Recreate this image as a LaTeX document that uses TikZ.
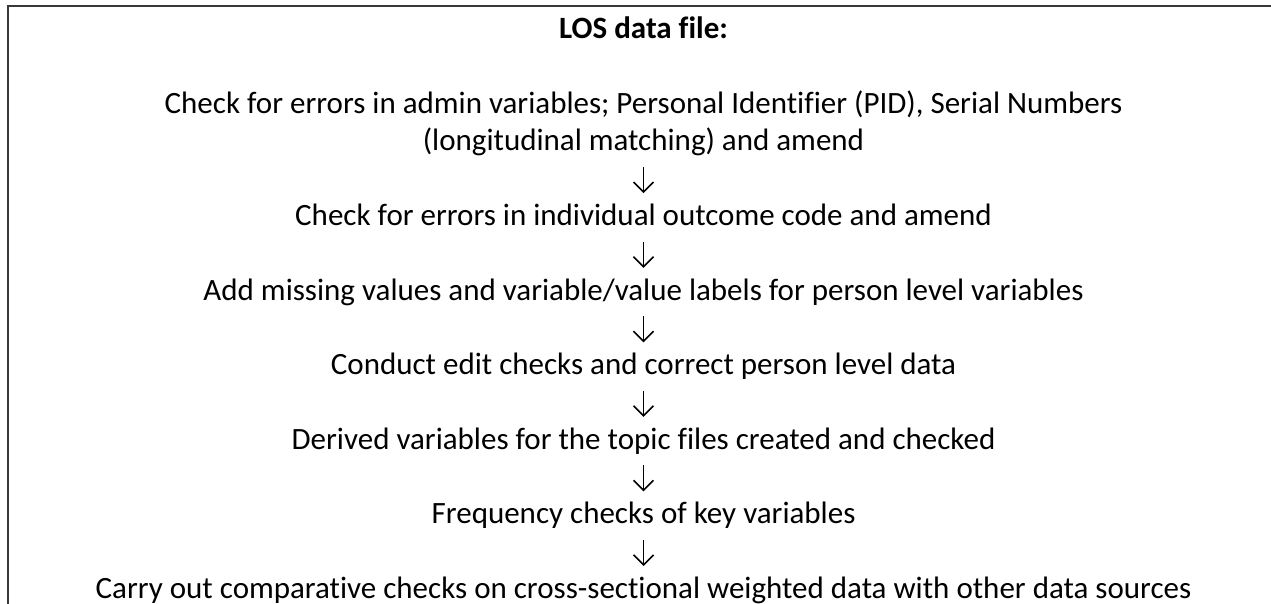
\documentclass[tikz,border=0pt]{standalone}
\usepackage{fontspec}
\setmainfont{Carlito}[Ligatures=NoCommon]
\usetikzlibrary{arrows.meta}
\tikzset{
  line/.style={font=\fontsize{31}{37.3}\selectfont, inner sep=0pt, anchor=base,
               text height=24pt, text depth=8pt},
  heading/.style={line, font=\fontsize{31}{37.3}\selectfont\bfseries},
  flow/.style={draw=black, line width=1.6pt, shorten <=8pt, shorten >=8pt,
               -{Straight Barb[length=10pt,width=20pt,line width=1.6pt]}},
  frame/.style={draw=black!78, line width=2pt}
}
\begin{document}
\begin{tikzpicture}[x=1pt,y=-1pt]
\useasboundingbox (0,0) rectangle (1271,604);
% open frame: left and top edges only
\draw[frame] (8,604) -- (8,6) -- (1271,6);
\def\cx{643.5}
\node[heading] (title) at (\cx,39) {LOS data file:};
\node[line] (s1a) at (\cx,113.5) {Check for errors in admin variables; Personal Identifier (PID), Serial Numbers};
\node[line] (s1b) at (\cx,150.8) {(longitudinal matching) and amend};
\node[line] (s2) at (\cx,225.4) {Check for errors in individual outcome code and amend};
\node[line] (s3) at (\cx,300) {Add missing values and variable/value labels for person level variables};
\node[line] (s4) at (\cx,374.5) {Conduct edit checks and correct person level data};
\node[line] (s5) at (\cx,449.1) {Derived variables for the topic files created and checked};
\node[line] (s6) at (\cx,523.6) {Frequency checks of key variables};
\node[line] (s7) at (\cx,598.2) {Carry out comparative checks on cross-sectional weighted data with other data sources};
\draw[flow] (s1b.south) -- (s2.north);
\draw[flow] (s2.south) -- (s3.north);
\draw[flow] (s3.south) -- (s4.north);
\draw[flow] (s4.south) -- (s5.north);
\draw[flow] (s5.south) -- (s6.north);
\draw[flow] (s6.south) -- (s7.north);
\end{tikzpicture}
\end{document}
